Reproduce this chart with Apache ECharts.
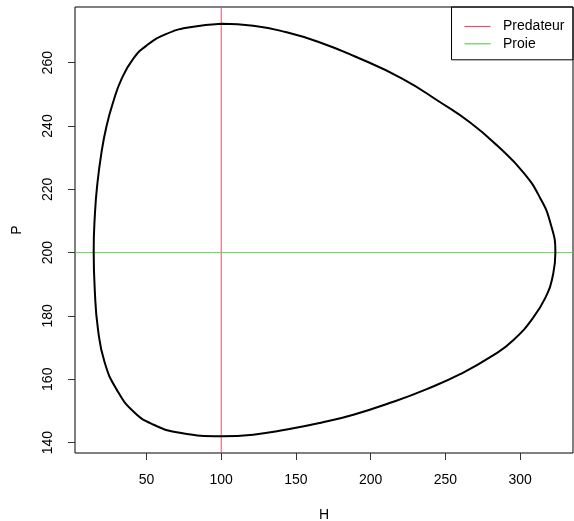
<!DOCTYPE html>
<html>
<head>
<meta charset="utf-8">
<script src="https://cdn.jsdelivr.net/npm/echarts@6/dist/echarts.min.js"></script>
<style>html,body{margin:0;padding:0;background:#fff}#c{width:574px;height:521px}</style>
</head>
<body>
<div id="c"></div>
<script>
// Trajectory in the (H, P) phase plane (clockwise from top)
const hValues = [100.3,121.4,143.8,166.1,188.4,221.0,246.5,266.5,284.4,302.2,313.4,320.1,323.5,321.3,317.9,308.9,295.5,282.1,259.8,237.5,215.2,188.4,166.1,143.8,121.4,100.3,72.3,54.5,41.1,30.0,22.1,17.6,15.4,14.7,15.5,17.0,19.9,23.3,27.7,33.3,41.1,50.0,63.4,79.0,100.3];
const pValues = [272.3,271.7,269.6,266.4,262.2,255.0,247.5,241.1,233.9,225.3,217.2,209.5,200.0,191.6,186.8,179.6,172.4,167.6,161.6,156.9,152.9,148.8,146.2,144.1,142.5,142.0,143.1,145.7,149.9,156.8,165.2,175.7,188.4,200.5,212.0,221.1,231.6,240.0,247.5,254.8,261.2,265.4,269.1,271.2,272.3];
const predatorH = 100;   // vertical line (Predateur)
const preyP = 200;       // horizontal line (Proie)
const xTicks = [50,100,150,200,250,300];
const yTicks = [140,160,180,200,220,240,260];
const xRange = [2.2, 335.3];
const yRange = [136.7, 277.6];

const traj = hValues.map((h,i)=>[h,pValues[i]]);
const font = 'Liberation Sans, Arial, Helvetica, sans-serif';
const chart = echarts.init(document.getElementById('c'), null, {renderer:'canvas'});
chart.setOption({
  animation:false,
  backgroundColor:'#fff',
  textStyle:{fontFamily:font},
  grid:{left:75,right:1,top:7,bottom:68,containLabel:false,outerBoundsMode:'none',show:true,borderColor:'#000',borderWidth:1,backgroundColor:'transparent'},
  legend:{
    orient:'vertical', right:1, top:7,
    data:['Predateur','Proie'],
    icon:'rect', itemWidth:26, itemHeight:1.2, itemGap:3.3,
    borderColor:'#000', borderWidth:1, borderRadius:0,
    padding:[12.5,8.5,9,13],
    textStyle:{fontFamily:font,fontSize:14,color:'#000',padding:[0,0,0,7.5]},
    selectedMode:false
  },
  xAxis:{
    type:'value', min:xRange[0], max:xRange[1],
    name:'H', nameLocation:'middle', nameGap:55,
    nameTextStyle:{fontFamily:font,fontSize:14,color:'#000'},
    axisLine:{show:false},
    axisTick:{show:true,length:7,inside:false,customValues:xTicks,lineStyle:{color:'#333'}},
    axisLabel:{customValues:xTicks,margin:20,fontFamily:font,fontSize:14,color:'#000'},
    splitLine:{show:false}
  },
  yAxis:{
    type:'value', min:yRange[0], max:yRange[1],
    name:'P', nameLocation:'middle', nameGap:51,
    nameTextStyle:{fontFamily:font,fontSize:14,color:'#000'},
    axisLine:{show:false},
    axisTick:{show:true,length:7,inside:false,customValues:yTicks,lineStyle:{color:'#333'}},
    axisLabel:{customValues:yTicks,rotate:90,margin:20,fontFamily:font,fontSize:14,color:'#000'},
    splitLine:{show:false}
  },
  series:[
    {name:'Predateur', type:'line', color:'#DF536B', showSymbol:false, symbol:'none', silent:true,
     data:[[predatorH,yRange[0]],[predatorH,yRange[1]]],
     lineStyle:{color:'#DF536B',width:1}, z:2},
    {name:'Proie', type:'line', color:'#61D04F', showSymbol:false, symbol:'none', silent:true,
     data:[[xRange[0],preyP],[xRange[1],preyP]],
     lineStyle:{color:'#61D04F',width:1}, z:2},
    {name:'trajectoire', type:'line', data:traj, smooth:0.5, showSymbol:false, symbol:'none', silent:true,
     lineStyle:{color:'#000',width:2}, z:3}
  ]
});
</script>
</body>
</html>
